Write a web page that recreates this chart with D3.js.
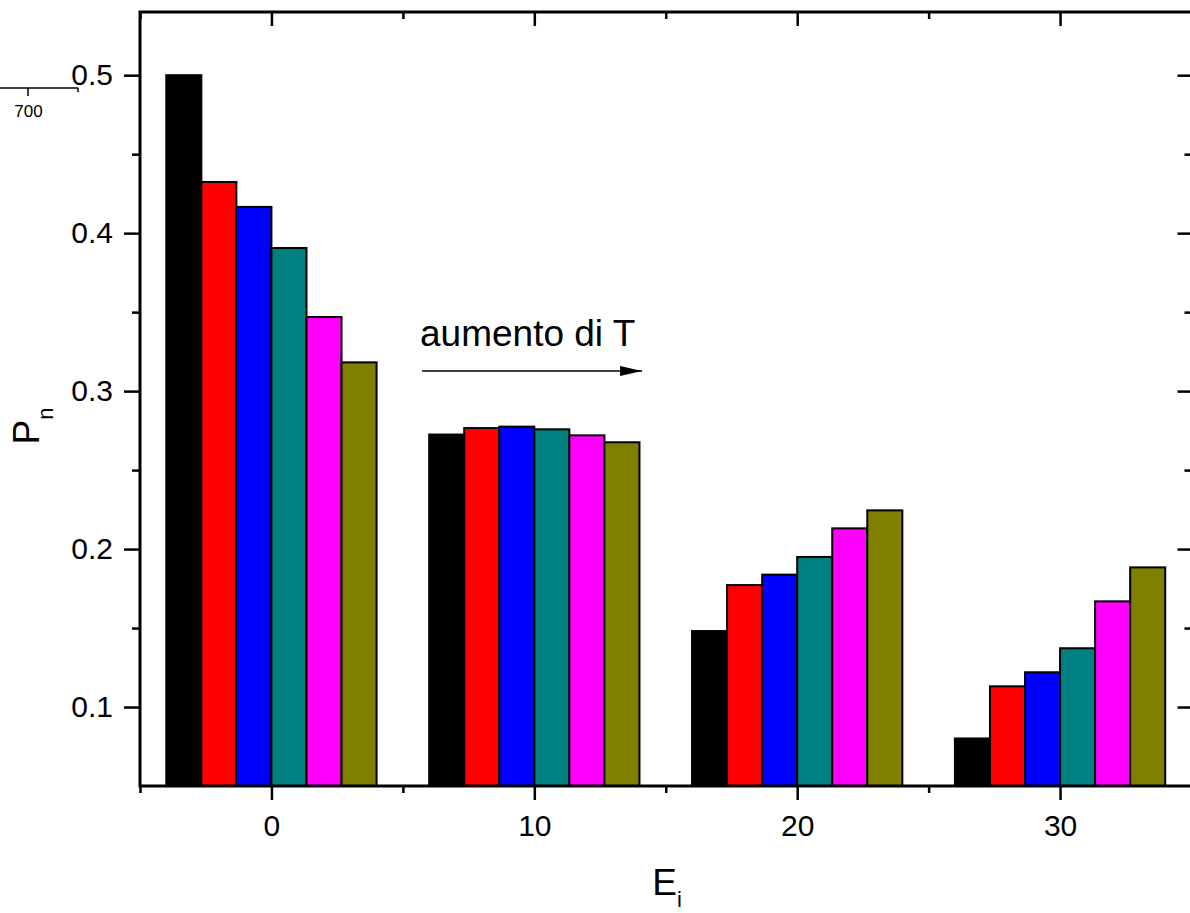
<!DOCTYPE html>
<html>
<head>
<meta charset="utf-8">
<script src="https://cdn.jsdelivr.net/npm/d3@7"></script>
<style>
  html, body { margin: 0; padding: 0; background: #fff; overflow: hidden; }
  svg { display: block; font-family: Arial, "Liberation Sans", sans-serif; }
  .axis path, .axis line { stroke: #000; }
  .axis text { fill: #000; }
</style>
</head>
<body>
<div id="chart"></div>
<script>
// ── Data ───────────────────────────────────────────────────────
const groups = [0, 10, 20, 30];
const seriesColors = ['#000000', '#ff0000', '#0000ff', '#008080', '#ff00ff', '#808000'];
// one array per temperature series, values for E_i = 0, 10, 20, 30
const serie1 = [0.500, 0.2725, 0.1481, 0.0801];
const serie2 = [0.4324, 0.2766, 0.1772, 0.1131];
const serie3 = [0.4166, 0.2775, 0.1838, 0.1220];
const serie4 = [0.3906, 0.2758, 0.1950, 0.1372];
const serie5 = [0.3469, 0.2720, 0.2131, 0.1669];
const serie6 = [0.3182, 0.2676, 0.2245, 0.1884];
const series = [serie1, serie2, serie3, serie4, serie5, serie6];

const xMajor = [0, 10, 20, 30];
const xMinor = [-5, 5, 15, 25, 35];
const yMajor = [0.1, 0.2, 0.3, 0.4, 0.5];
const yMinor = [0.15, 0.25, 0.35, 0.45];

const W = 1190, H = 913;
const plot = { left: 140, right: 1191.5, top: 12, bottom: 786 };
const groupWidth = 8; // in x units, shared by the 6 bars
const FONT = 'Arial, "Liberation Sans", sans-serif';

const svg = d3.select('#chart').append('svg')
  .attr('width', W).attr('height', H);

const x = d3.scaleLinear().domain([-5, 35]).range([plot.left, plot.right]);
const y = d3.scaleLinear().domain([0.05, 0.54]).range([plot.bottom, plot.top]);

// ── Bars ───────────────────────────────────────────────────────
const barW = groupWidth / series.length;
const barData = [];
series.forEach((vals, si) => {
  vals.forEach((v, gi) => {
    barData.push({ g: groups[gi], si, v });
  });
});
const x0 = d => d.g - groupWidth / 2 + d.si * barW;

svg.append('g').selectAll('rect').data(barData)
  .join('rect')
  .attr('x', d => x(x0(d)))
  .attr('width', d => x(x0(d) + barW) - x(x0(d)))
  .attr('y', d => y(d.v))
  .attr('height', d => y(0.05) - y(d.v))
  .attr('fill', d => seriesColors[d.si])
  .attr('stroke', '#000')
  .attr('stroke-width', 2);

// ── Axes ───────────────────────────────────────────────────────
function styleAxis(sel, w) {
  sel.attr('class', 'axis').attr('font-family', FONT);
  sel.select('.domain').remove();
  sel.selectAll('line').attr('stroke-width', w);
}

const fmtY = d3.format('.1f');

// bottom
svg.append('g').attr('transform', `translate(0,${plot.bottom})`)
  .call(d3.axisBottom(x).tickValues(xMajor).tickSize(14).tickPadding(15))
  .call(s => styleAxis(s, 2.5))
  .attr('font-size', 30);
svg.append('g').attr('transform', `translate(0,${plot.bottom})`)
  .call(d3.axisBottom(x).tickValues(xMinor).tickSize(7).tickFormat(''))
  .call(s => styleAxis(s, 2.5));

// top (inward ticks)
svg.append('g').attr('transform', `translate(0,${plot.top})`)
  .call(d3.axisTop(x).tickValues(xMajor).tickSize(-14).tickFormat(''))
  .call(s => styleAxis(s, 2.5));
svg.append('g').attr('transform', `translate(0,${plot.top})`)
  .call(d3.axisTop(x).tickValues(xMinor).tickSize(-7).tickFormat(''))
  .call(s => styleAxis(s, 2.5));

// left
svg.append('g').attr('transform', `translate(${plot.left},0)`)
  .call(d3.axisLeft(y).tickValues(yMajor).tickSize(16).tickPadding(11).tickFormat(fmtY))
  .call(s => styleAxis(s, 2.5))
  .attr('font-size', 30);
svg.append('g').attr('transform', `translate(${plot.left},0)`)
  .call(d3.axisLeft(y).tickValues(yMinor).tickSize(8).tickFormat(''))
  .call(s => styleAxis(s, 2.5));

// right (inward ticks)
svg.append('g').attr('transform', `translate(${plot.right},0)`)
  .call(d3.axisRight(y).tickValues(yMajor).tickSize(-14).tickFormat(''))
  .call(s => styleAxis(s, 2.5));
svg.append('g').attr('transform', `translate(${plot.right},0)`)
  .call(d3.axisRight(y).tickValues(yMinor).tickSize(-7).tickFormat(''))
  .call(s => styleAxis(s, 2.5));

// frame
svg.append('rect')
  .attr('x', plot.left).attr('y', plot.top)
  .attr('width', plot.right - plot.left).attr('height', plot.bottom - plot.top)
  .attr('fill', 'none').attr('stroke', '#000').attr('stroke-width', 3);

// ── Axis titles ────────────────────────────────────────────────
const yTitle = svg.append('text')
  .attr('transform', 'translate(39,426) rotate(-90)')
  .attr('text-anchor', 'middle')
  .attr('font-size', 37);
yTitle.append('tspan').text('P');
yTitle.append('tspan').attr('font-size', 22).attr('dy', 14).text('n');

const xTitle = svg.append('text')
  .attr('x', 667).attr('y', 895)
  .attr('text-anchor', 'middle')
  .attr('font-size', 37);
xTitle.append('tspan').text('E');
xTitle.append('tspan').attr('font-size', 22).attr('dy', 12).text('i');

// ── Annotation ─────────────────────────────────────────────────
svg.append('defs').append('marker')
  .attr('id', 'arrow').attr('viewBox', '0 0 10 10')
  .attr('refX', 10).attr('refY', 5)
  .attr('markerWidth', 22).attr('markerHeight', 10)
  .attr('markerUnits', 'userSpaceOnUse')
  .attr('preserveAspectRatio', 'none')
  .attr('orient', 'auto')
  .append('path').attr('d', 'M0,0 L10,5 L0,10 Z').attr('fill', '#000');

svg.append('text')
  .attr('x', 420).attr('y', 346)
  .attr('font-size', 37)
  .text('aumento di T');

svg.append('line')
  .attr('x1', x(5.73)).attr('x2', x(14.1))
  .attr('y1', 371).attr('y2', 371)
  .attr('stroke', '#000').attr('stroke-width', 1.5)
  .attr('marker-end', 'url(#arrow)');

// ── Stray axis fragment at top-left ────────────────────────────
const strayAxis = svg.append('g').attr('transform', 'translate(0,88)');
strayAxis.append('line').attr('x1', 0).attr('x2', 78).attr('y1', 0).attr('y2', 0)
  .attr('stroke', '#000').attr('stroke-width', 1.5);
strayAxis.append('line').attr('x1', 28).attr('x2', 28).attr('y1', 0).attr('y2', 8)
  .attr('stroke', '#000').attr('stroke-width', 1.5);
strayAxis.append('line').attr('x1', 78).attr('x2', 78).attr('y1', 0).attr('y2', 4)
  .attr('stroke', '#000').attr('stroke-width', 1.5);
strayAxis.append('text').attr('x', 28.5).attr('y', 29)
  .attr('text-anchor', 'middle').attr('font-size', 17)
  .text('700');
</script>
</body>
</html>
